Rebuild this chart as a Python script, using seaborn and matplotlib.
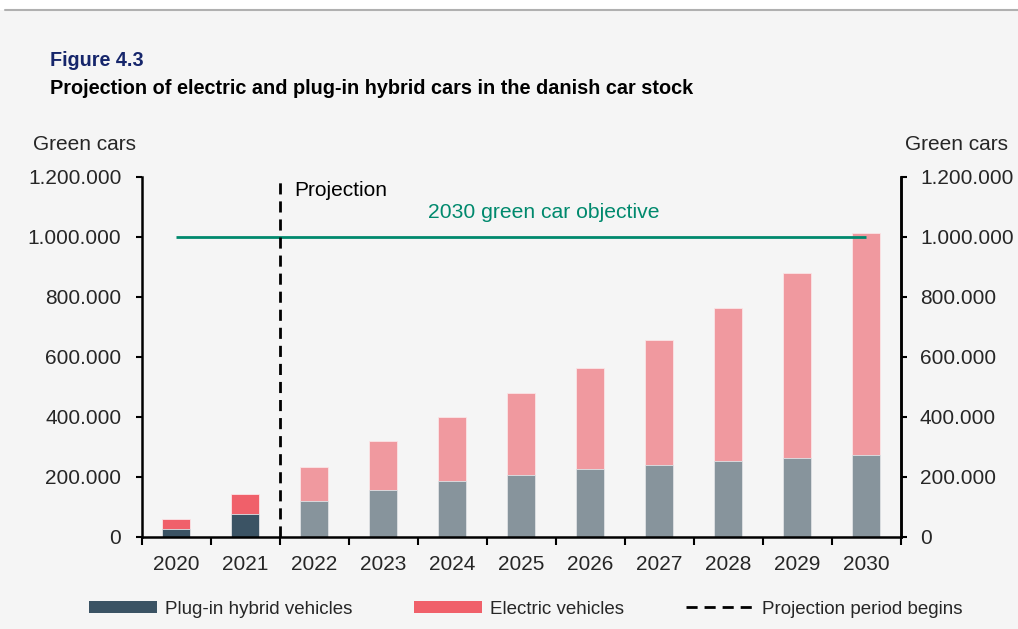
import matplotlib
matplotlib.use("Agg")
import matplotlib.pyplot as plt
import seaborn as sns
import pandas as pd
import numpy as np
from matplotlib.patches import Patch
from matplotlib.lines import Line2D

years = ["2020", "2021", "2022", "2023", "2024", "2025", "2026", "2027", "2028", "2029", "2030"]
phev = [26000, 77000, 119000, 157000, 186000, 207000, 225000, 240000, 253000, 263000, 271000]
total = [59000, 142000, 231000, 319000, 399000, 478000, 562000, 656000, 761000, 880000, 1013000]
ev = [t - p for t, p in zip(total, phev)]
is_projection = [False, False] + [True] * 9
objective = 1000000
yticks = [0, 200000, 400000, 600000, 800000, 1000000, 1200000]

BG = "#f5f5f5"
PHEV_HIST, EV_HIST = "#3b5364", "#f0606a"
PHEV_PROJ, EV_PROJ = "#87949c", "#f0999f"
GREEN = "#00896d"

sns.set_theme(style="white")
plt.rcParams["font.family"] = ["Liberation Sans", "DejaVu Sans"]

df = pd.DataFrame({"year": years, "phev": phev, "total": total, "proj": is_projection})
ev_pal = {y: (EV_PROJ if p else EV_HIST) for y, p in zip(years, is_projection)}
ph_pal = {y: (PHEV_PROJ if p else PHEV_HIST) for y, p in zip(years, is_projection)}

fig = plt.figure(figsize=(10.18, 6.29), dpi=100, facecolor=BG)
ax = fig.add_axes([0.139, 0.1467, 0.7456, 0.5724])
ax.set_facecolor(BG)

sns.barplot(data=df, x="year", y="total", hue="year", palette=ev_pal, width=0.4,
            legend=False, ax=ax, edgecolor="#fbe4e6", linewidth=0.6, saturation=1)
sns.barplot(data=df, x="year", y="phev", hue="year", palette=ph_pal, width=0.4,
            legend=False, ax=ax, edgecolor="#dfe3e6", linewidth=0.6, saturation=1)

ax.set_xlim(-0.5, len(years) - 0.5)
ax.set_ylim(0, 1200000)
ax.set_xlabel("")
ax.set_ylabel("")

def fmt(v):
    return f"{int(v):,}".replace(",", ".")

ax.set_yticks(yticks)
ax.set_yticklabels([fmt(v) for v in yticks])
ax.tick_params(axis="y", direction="out", length=4.5, width=1.5, color="black",
               labelsize=15, pad=10, left=True)
ax.set_xticks(range(len(years)))
ax.set_xticklabels(years)
ax.tick_params(axis="x", which="major", length=0, labelsize=15, pad=13)
ax.set_xticks(np.arange(-0.5, len(years), 1.0), minor=True)
ax.tick_params(axis="x", which="minor", direction="out", length=6, width=1.5,
               color="black", bottom=True)

for s in ["top"]:
    ax.spines[s].set_visible(False)
for s in ["left", "bottom", "right"]:
    ax.spines[s].set_visible(True)
    ax.spines[s].set_color("black")
    ax.spines[s].set_linewidth(1.8)

ax2 = ax.twinx()
ax2.set_ylim(0, 1200000)
ax2.set_yticks(yticks)
ax2.set_yticklabels([fmt(v) for v in yticks])
ax2.tick_params(axis="y", direction="out", length=4.5, width=1.5, color="black",
                labelsize=15, pad=9.5, right=True)
ax2.spines["top"].set_visible(False)
ax2.spines["right"].set_color("black")
ax2.spines["right"].set_linewidth(1.8)
ax2.spines["left"].set_visible(False)
ax2.spines["bottom"].set_visible(False)
ax2.grid(False)

ax.hlines(objective, 0, len(years) - 1, color=GREEN, lw=2, zorder=5)
ax.axvline(1.5, color="black", lw=2, linestyle=(0, (4, 2.5)), zorder=6)
ax.text(1.72, 1155000, "Projection", fontsize=15, color="black", va="center", ha="left")
ax.text(5.33, 1080000, "2030 green car objective", fontsize=15.2,
        color=GREEN, va="center", ha="center")

fig.text(33 / 1018, 1 - 144 / 629, "Green cars", fontsize=15, ha="left", va="center")
fig.text(1008 / 1018, 1 - 144 / 629, "Green cars", fontsize=15, ha="right", va="center")

fig.text(50 / 1018, 1 - 60 / 629, "Figure 4.3", fontsize=14.2, fontweight="bold",
         color="#16266b", ha="left", va="center")
fig.text(50 / 1018, 1 - 88 / 629, "Projection of electric and plug-in hybrid cars in the danish car stock",
         fontsize=14.3, fontweight="bold", color="black", ha="left", va="center")

# top white band with gray rule
fig.patches.append(plt.Rectangle((0, 1 - 10 / 629), 1, 10 / 629, transform=fig.transFigure,
                                 facecolor="white", edgecolor="none", zorder=0))
fig.add_artist(Line2D([5 / 1018, 1], [1 - 10 / 629, 1 - 10 / 629], transform=fig.transFigure,
                      color="#b0b0b0", lw=1.5))

handles = [Patch(facecolor=PHEV_HIST, edgecolor="none"),
           Patch(facecolor=EV_HIST, edgecolor="none"),
           Line2D([0], [0], color="black", lw=2, linestyle=(0, (4, 2.5)))]
labels = ["Plug-in hybrid vehicles", "Electric vehicles", "Projection period begins"]
fig.legend(handles, labels, loc="center", bbox_to_anchor=(526 / 1018, 1 - 609 / 629), ncol=3,
           frameon=False, fontsize=13.5, handlelength=3.6, handleheight=0.55,
           handletextpad=0.45, columnspacing=3.3)

fig.savefig("out.png", dpi=100, facecolor=BG)
